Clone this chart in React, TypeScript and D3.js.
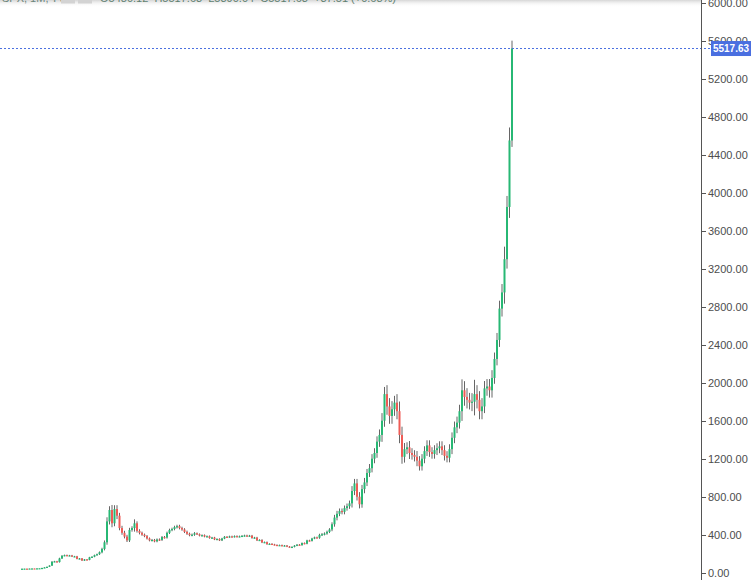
import React from 'react';
import * as d3 from 'd3';

// closing prices left to right
const closes = [
  42, 43, 42, 44, 45, 44, 46, 47, 50, 56,
  62, 75, 115, 120, 112, 150, 178, 185, 180, 182,
  170, 172, 145, 150, 128, 140, 135, 162, 168, 185,
  195, 215, 250, 320, 540, 660, 520, 670, 600, 470,
  420, 380, 340, 450, 470, 520, 440, 420, 400, 385,
  360, 340, 345, 330, 350, 345, 375, 370, 420, 450,
  460, 480, 490, 470, 455, 430, 410, 395, 400, 415,
  405, 390, 395, 380, 384, 365, 370, 350, 355, 340,
  360, 378, 375, 382, 378, 385, 380, 383, 388, 392,
  385, 390, 365, 370, 340, 345, 318, 322, 300, 304,
  298, 292, 288, 290, 284, 286, 275, 268, 272, 285,
  295, 290, 312, 305, 340, 335, 360, 372, 368, 398,
  405, 412, 430, 455, 510, 580, 620, 650, 640, 680,
  700, 730, 860, 940, 800, 720, 880, 950, 1050, 1100,
  1200, 1260, 1380, 1450, 1600, 1880, 1750, 1650, 1720, 1790,
  1700, 1450, 1220, 1300, 1320, 1260, 1240, 1220, 1180, 1120,
  1200, 1280, 1340, 1270, 1250, 1290, 1310, 1330, 1290, 1230,
  1210, 1300, 1420, 1530, 1580, 1700, 1920, 1850, 1820, 1790,
  1800, 1880, 1820, 1700, 1750, 1940, 1960, 1920, 2050, 2250,
  2450, 2780, 2950, 3300, 3850, 4550, 5517.63,
];

// wick length beyond the body, in percent of price
const wicks = [
  2, 2, 2, 2, 2, 2, 2, 2, 3, 3,
  3, 4, 6, 4, 4, 5, 4, 3, 3, 3,
  3, 3, 3, 3, 3, 3, 3, 3, 3, 3,
  3, 4, 5, 6, 8, 6, 8, 6, 6, 5,
  5, 5, 5, 5, 4, 8, 4, 4, 3, 3,
  3, 3, 3, 3, 3, 3, 3, 3, 3, 3,
  3, 3, 3, 3, 3, 3, 3, 3, 3, 3,
  2, 2, 2, 2, 2, 2, 2, 2, 2, 2,
  2, 2, 2, 2, 2, 2, 2, 2, 2, 2,
  2, 2, 2, 2, 2, 2, 2, 2, 2, 2,
  2, 2, 2, 2, 2, 2, 2, 2, 2, 2,
  2, 2, 2, 2, 2, 2, 2, 2, 2, 3,
  3, 3, 3, 3, 4, 5, 5, 4, 4, 4,
  4, 4, 6, 5, 5, 6, 5, 5, 4, 4,
  4, 4, 4, 4, 5, 4, 5, 5, 5, 4,
  5, 6, 6, 5, 4, 5, 4, 4, 5, 4,
  4, 4, 4, 4, 4, 4, 4, 4, 4, 4,
  4, 4, 4, 4, 4, 4, 6, 5, 5, 4,
  5, 8, 5, 5, 5, 4, 4, 4, 4, 3,
  3, 3, 3, 4, 3, 3, 1.5,
];

const firstOpen = 40;
const yTicks = [0, 400, 800, 1200, 1600, 2000, 2400, 2800, 3200, 3600, 4000, 4400, 4800, 5200, 5600, 6000];
const lastPrice = 5517.63;

const legendName = 'SPX, 1M, TVC';
const legendValues = 'O5480.12  H5517.63  L5390.04  C5517.63  +37.51 (+0.68%)';

const W = 752;
const H = 580;
const axisX = 701;

const UP = '#27b874';
const DOWN = '#ef5b55';
const WICK = '#666';
const BLUE = '#4a6fe0';

export default function App() {
  const candles = closes.map((c, i) => {
    const o = i === 0 ? firstOpen : closes[i - 1];
    const w = wicks[i] / 100;
    return { i, o, c, h: Math.max(o, c) * (1 + w), l: Math.min(o, c) * (1 - w) };
  });

  const x = d3.scaleLinear().domain([0, closes.length - 1]).range([22, 512]);
  const y = d3.scaleLinear().domain([0, 6000]).range([572.7, 2.7]);
  const bw = 2;
  const fmt = d3.format('.2f');

  return (
    <svg width={W} height={H} style={{ position: 'absolute', left: 0, top: 0, background: '#fff' }}
      fontFamily="Arial, 'Liberation Sans', sans-serif">
      <defs>
        <linearGradient id="topShade" x1="0" y1="0" x2="0" y2="1">
          <stop offset="0" stopColor="#d6d6d6" />
          <stop offset="1" stopColor="#ffffff" stopOpacity="0" />
        </linearGradient>
      </defs>

      {/* legend strip, mostly scrolled out above the top edge */}
      <rect x={0} y={0} width={axisX} height={7} fill="url(#topShade)" />
      <text x={2} y={1.5} fontSize={11} fill="#6b857a">{legendName}</text>
      <rect x={61} y={0} width={14} height={3.5} fill="#d3d3d3" />
      <rect x={78} y={0} width={14} height={3.5} fill="#d3d3d3" />
      <text x={100} y={1.5} fontSize={11} fill="#5f7f70" style={{ whiteSpace: 'pre' }}>{legendValues}</text>

      {/* candles */}
      <g>
        {candles.map(d => (
          <line key={'w' + d.i} x1={x(d.i)} x2={x(d.i)} y1={y(d.h)} y2={y(d.l)} stroke={WICK} strokeWidth={1} />
        ))}
        {candles.map(d => {
          const top = y(Math.max(d.o, d.c));
          const hgt = Math.max(1.2, Math.abs(y(d.o) - y(d.c)));
          return (
            <rect key={'b' + d.i} x={x(d.i) - bw / 2} y={top} width={bw} height={hgt}
              fill={d.c >= d.o ? UP : DOWN} />
          );
        })}
      </g>

      {/* last price line */}
      <line x1={0} x2={711} y1={y(lastPrice)} y2={y(lastPrice)} stroke={BLUE} strokeWidth={1} strokeDasharray="2 2" />

      {/* right price axis */}
      <line x1={axisX + 0.5} x2={axisX + 0.5} y1={0} y2={H} stroke="#555" strokeWidth={1} />
      {yTicks.map(t => (
        <g key={t} transform={`translate(0,${Math.round(y(t)) + 0.5})`}>
          <line x1={axisX} x2={axisX + 5} stroke="#555" />
          <text x={708} dy="0.35em" fontSize={11} fill="#4d4d4d">{fmt(t)}</text>
        </g>
      ))}

      <rect x={711} y={y(lastPrice) - 7.5} width={40} height={15} fill={BLUE} />
      <text x={713} y={y(lastPrice)} dy="0.35em" fontSize={11} fontWeight="bold" fill="#fff"
        textLength={36} lengthAdjust="spacingAndGlyphs">{fmt(lastPrice)}</text>
    </svg>
  );
}
